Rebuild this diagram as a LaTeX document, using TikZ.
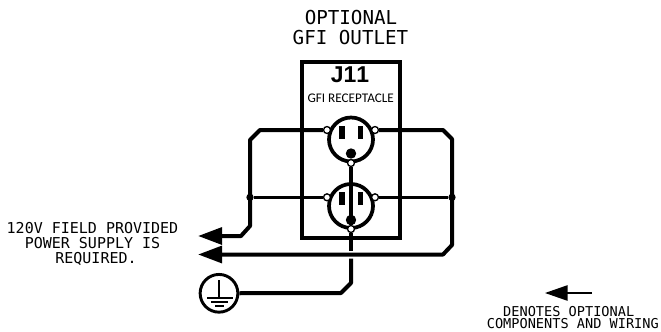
\documentclass[tikz,border=0pt]{standalone}
\usepackage{fontspec}
\setmainfont{Liberation Sans}
\setmonofont{DejaVu Sans Mono}
\newfontfamily\rcptfont{Carlito}
\newfontfamily\jackfont[Kerning=Off]{Liberation Sans Bold}
\usetikzlibrary{arrows.meta}

\tikzset{
	wire/.style={line width=3pt, line join=round},
	busline/.style={line width=2.4pt},
	terminal/.style={circle, draw, fill=white, line width=1pt, inner sep=0pt, minimum size=5.2pt},
	junction/.style={circle, fill=black, inner sep=0pt, minimum size=5.5pt},
	socket/.style={circle, draw, line width=2.8pt, inner sep=0pt, minimum size=33pt},
	prong/.style={fill=black},
	titletxt/.style={font=\ttfamily\fontsize{14.4}{14.4}\selectfont, inner sep=0pt},
	monotxt/.style={font=\ttfamily\fontsize{11.25}{11.25}\selectfont, inner sep=0pt},
	legendtxt/.style={font=\ttfamily\fontsize{10.2}{10.2}\selectfont, inner sep=0pt},
	bigtip/.style={-{Triangle[length=18pt, width=12.5pt]}}
}

\begin{document}
\begin{tikzpicture}[x=0.75pt, y=-0.75pt]
	\useasboundingbox (0,0) rectangle (661,332);
	
	% Titles
	\node[titletxt] (title1) at (351, 18) {OPTIONAL};
	\node[titletxt] (title2) at (350.5, 37.5) {GFI OUTLET};
	
	% Receptacle box
	\node[draw, line width=2.3pt, minimum width=73.5pt, minimum height=132pt, inner sep=0pt] (box) at (351, 150) {};
	\node[font=\jackfont\fontsize{17.2}{17.2}\selectfont, inner sep=0pt] (j11) at (350, 75) {J11};
	\node[font=\rcptfont\fontsize{9.9}{9.9}\selectfont, inner sep=0pt] (gfi) at (350.7, 98) {GFI RECEPTACLE};
	
	% Terminals and junctions
	\node[socket] (upper) at (351, 139.5) {};
	\node[socket] (lower) at (351, 206) {};
	\node[junction] (jleft) at (250, 197.3) {};
	\node[junction] (jright) at (452, 197.3) {};
	\node[terminal] (hot1) at (327, 130) {};
	\node[terminal] (neu1) at (375, 130) {};
	\node[terminal] (hot2) at (327, 197.3) {};
	\node[terminal] (neu2) at (375, 197.3) {};
	
	% Chamfer points and free ends
	\coordinate (a1) at (260, 130);
	\coordinate (a2) at (250, 140);
	\coordinate (a3) at (250, 226);
	\coordinate (a4) at (241, 236);
	\coordinate (tipa) at (198, 236);
	\coordinate (b1) at (443, 130);
	\coordinate (b2) at (452, 139);
	\coordinate (b3) at (452, 245);
	\coordinate (b4) at (443, 254.5);
	\coordinate (tipb) at (198, 254.5);
	\coordinate (c1) at (351, 250.5);
	\coordinate (c2) at (351, 258.5);
	\coordinate (c3) at (351, 283);
	\coordinate (c4) at (341, 293);
	
	% Ground symbol
	\node[circle, draw, line width=2.2pt, inner sep=0pt, minimum size=28.3pt] (earth) at (219, 293.3) {};
	\coordinate (e1) at (219, 280);
	\coordinate (e2) at (219, 298);
	\draw[line width=1.4pt] (e1) -- (e2);
	\draw[line width=1.5pt] (207, 298) -- (233, 298);
	\draw[line width=1.5pt] (211, 302) -- (228, 302);
	\draw[line width=1.5pt] (215, 306) -- (224, 306);
	
	% Wiring
	\draw[wire, bigtip] (hot1) -- (a1) -- (a2) -- (a3) -- (a4) -- (tipa);
	\draw[wire, bigtip] (neu1) -- (b1) -- (b2) -- (b3) -- (b4) -- (tipb);
	\draw[busline] (jleft) -- (hot2);
	\draw[busline] (neu2) -- (jright);
	\node[terminal] (gnd1) at (351, 163) {};
	\node[terminal] (gnd2) at (351, 229) {};
	\draw[wire] (gnd1) -- (gnd2);
	\draw[wire] (gnd2) -- (c1);
	\draw[wire] (c2) -- (c3) -- (c4) -- (earth);
	
	% Slots and ground pins
	\foreach \cy in {139.5, 206} {
		\fill[prong] (339, \cy-14) rectangle (344.5, \cy-1);
		\fill[prong] (357.5, \cy-14) rectangle (363, \cy-1);
		\fill[prong] (351, \cy+14) circle (3.9pt);
	}
	
	% Left note
	\node[monotxt] (note1) at (92.5, 228) {120V FIELD PROVIDED};
	\node[monotxt] (note2) at (92.5, 243) {POWER SUPPLY IS};
	\node[monotxt] (note3) at (96, 258.5) {REQUIRED.};
	
	% Legend
	\coordinate (lega) at (592, 293);
	\coordinate (legb) at (545, 293);
	\draw[line width=1.2pt, -{Triangle[length=17pt, width=11.5pt]}] (lega) -- (legb);
	\node[legendtxt] (leg1) at (568.7, 312) {DENOTES OPTIONAL};
	\node[legendtxt] (leg2) at (572.8, 324) {COMPONENTS AND WIRING};
\end{tikzpicture}
\end{document}
